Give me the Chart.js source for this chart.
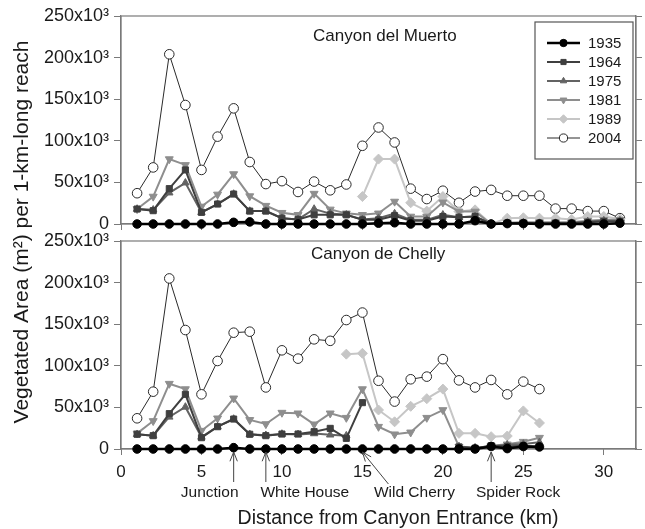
<!DOCTYPE html>
<html><head><meta charset="utf-8">
<script src="https://cdn.jsdelivr.net/npm/chart.js@4/dist/chart.umd.min.js"></script>
<style>
html,body{margin:0;padding:0;background:#fff;}
#wrap{position:relative;width:645px;height:529px;}
canvas{position:absolute;left:0;top:0;}
</style>
</head><body>
<div id="wrap"><canvas id="cTop" width="645" height="529"></canvas><canvas id="cBot" width="645" height="529"></canvas></div>
<script>
// ---- data (vegetated area, thousands of m^2 per 1-km reach) ----
const years = ['1935','1964','1975','1981','1989','2004'];
const kmMuerto = [1,2,3,4,5,6,7,8,9,10,11,12,13,14,15,16,17,18,19,20,21,22,23,24,25,26,27,28,29,30,31];
const muerto1935 = [0,0,0,0,0,0,2,2.5,0,0,0,0,0,0,0,1,1.5,0,0,0,0,4,0,0.5,0.5,0,0,0,0,0,1];
const muerto1964 = [18,16,42.5,65,14,24,36,15.5,15.5,7,5.5,11,11,11,5,5,10,4,4,9,8,9,0,1,1,1,1,1,2,3,3];
const muerto1975 = [18,17,37.5,49.5,14,24,36,15.5,15.5,7,5.5,18,12.5,11,5.5,7,12.5,5,5,11,8,9,0,1,1.5,1,1,1,3,4,4];
const muerto1981 = [18,33,78,71,21,35.5,60,33.5,22,13.5,11,36.5,17.5,12.8,11,12.8,27,9,9,26,15,15,0,1.5,2,2,2,2,4,5,5];
const muerto1989 = [null,null,null,null,null,null,null,null,null,null,null,null,null,null,33,78,78,25.5,15.5,33,15,17,0,7,7.5,7,7,5.5,9,9,6];
const muerto2004 = [37,68,204,143,65,105,139,74.5,48,51.5,38.5,51,40.5,47.5,94,116,98,42.5,30,40,25.5,39,41,34,34,34,18.5,18.5,15.5,15.5,7];

const kmChelly = [1,2,3,4,5,6,7,8,9,10,11,12,13,14,15,16,17,18,19,20,21,22,23,24,25,26];
const chelly1935 = [0,0,0,0,0,0,1.6,0,0,0,0,0,0,0,0,0,0,0,0,0,0,0,3,0.5,3,2.5];
const chelly1964 = [17.7,16,42.5,65.7,13.6,26.8,36,17.7,16,18,18,20.8,24.8,12.8,55.7,null,null,null,null,null,2.5,1,4,3,4,3];
const chelly1975 = [17.7,16,38.5,50.5,14.4,26.8,36,17.7,16.5,18,17.5,18.5,17,16,null,null,null,null,null,null,3,1.5,3,5,6,8];
const chelly1981 = [18.8,33.7,78.5,72,22,36.9,60.9,35,30,43.7,42.9,29.7,42.9,37.6,72,26.8,17.7,20,37.6,46.9,2.8,0.8,4,5.6,8.8,13.6];
const chelly1989 = [null,null,null,null,null,null,null,null,null,null,null,null,null,114,115,46.9,32.7,51.3,60.5,72,18.8,18.8,14.8,15.6,45.8,31.3];
const chelly2004 = [36.9,68.9,205,143,65.7,105.8,139.8,141,74,118.6,108.6,131.8,130,155,164,82,57,83.8,87,108,82.5,74,83,65.7,81,72];

const xTickStep = 5;
const yTicks = [0,50,100,150,200,250];
const landmarkNames = ['Junction','White House','Wild Cherry','Spider Rock'];
const landmarkKm = [7,9,15,23];
const xTitle = 'Distance from Canyon Entrance (km)';
const yTitle = 'Vegetated Area (m²) per 1-km-long reach';

// ---- styles ----
const FONT = "'Liberation Sans', Arial, sans-serif";
const AX = '#7a7a7a';
const TXT = '#1a1a1a';
const seriesStyle = [
  {color:'#000000', bg:'#000000', pointStyle:'circle', radius:4.3, width:2.5, rot:0},
  {color:'#3f3f3f', bg:'#3f3f3f', pointStyle:'rect', radius:4.3, width:2, rot:0},
  {color:'#636363', bg:'#636363', pointStyle:'triangle', radius:4.3, width:2, rot:0},
  {color:'#8e8e8e', bg:'#8e8e8e', pointStyle:'triangle', radius:4.6, width:2, rot:180},
  {color:'#c6c6c6', bg:'#c6c6c6', pointStyle:'rectRot', radius:5, width:2, rot:0},
  {color:'#2a2a2a', bg:'#ffffff', pointStyle:'circle', radius:4.8, width:1, rot:0}
];

function makeDatasets(km, seriesList){
  return seriesList.map((vals,i)=>{
    const s = seriesStyle[i];
    return {
      label: years[i],
      data: km.map((k,j)=>({x:k, y:vals[j]})),
      borderColor: s.color,
      backgroundColor: s.bg,
      borderWidth: s.width,
      pointStyle: s.pointStyle,
      pointRotation: s.rot,
      pointRadius: s.radius,
      pointBorderColor: s.color,
      pointBackgroundColor: s.bg,
      pointBorderWidth: 1,
      tension: 0,
      spanGaps: false,
      clip: 12
    };
  });
}

const framePlugin = {
  id:'frame',
  beforeDatasetsDraw(chart){
    const a = chart.chartArea, ctx = chart.ctx;
    ctx.save(); ctx.strokeStyle = AX; ctx.lineWidth = 1.2;
    ctx.strokeRect(a.left, a.top, a.right-a.left, a.bottom-a.top);
    ctx.restore();
  },
  afterDraw(chart, args, opts){
    const a = chart.chartArea, ctx = chart.ctx;
    ctx.save(); ctx.fillStyle = TXT; ctx.font = '17px ' + FONT;
    ctx.textBaseline = 'middle'; ctx.textAlign = 'left';
    ctx.fillText(opts.text, a.left + opts.dx, a.top + opts.dy);
    ctx.restore();
  }
};

const legendPlugin = {
  id:'boxLegend',
  afterDraw(chart){
    const ctx = chart.ctx, a = chart.chartArea;
    const bx = a.right - 101, by = a.top + 6, bw = 98, bh = 137;
    ctx.save();
    ctx.fillStyle = '#fff'; ctx.fillRect(bx,by,bw,bh);
    ctx.strokeStyle = '#555'; ctx.lineWidth = 1.2; ctx.strokeRect(bx,by,bw,bh);
    chart.data.datasets.forEach((ds,i)=>{
      const s = seriesStyle[i];
      const y = by + 21 + i*19;
      ctx.strokeStyle = s.color; ctx.lineWidth = s.width;
      ctx.beginPath(); ctx.moveTo(bx+12,y); ctx.lineTo(bx+45,y); ctx.stroke();
      ctx.fillStyle = s.bg; ctx.strokeStyle = s.color; ctx.lineWidth = 1;
      Chart.helpers.drawPoint(ctx, {pointStyle:s.pointStyle, rotation:s.rot, radius:s.radius*0.85, borderWidth:1}, bx+28.5, y);
      ctx.fillStyle = TXT; ctx.font = '15px ' + FONT; ctx.textBaseline='middle'; ctx.textAlign='left';
      ctx.fillText(ds.label, bx+53, y+1);
    });
    ctx.restore();
  }
};

const annotPlugin = {
  id:'annot',
  afterDraw(chart){
    const ctx = chart.ctx, a = chart.chartArea, xs = chart.scales.x;
    const labelDx = [-24, 39, 52, 27];
    ctx.save();
    ctx.strokeStyle = '#444'; ctx.lineWidth = 1;
    ctx.fillStyle = TXT; ctx.font = '15.5px ' + FONT; ctx.textAlign='center'; ctx.textBaseline='middle';
    landmarkKm.forEach((k,i)=>{
      const px = xs.getPixelForValue(k);
      const tipY = a.bottom + 3;
      let endX = px, endY = a.bottom + 33;
      if (landmarkNames[i] === 'Wild Cherry') { endX = px + 26; endY = a.bottom + 35; }
      const ang = Math.atan2(endY - tipY, endX - px);
      ctx.beginPath(); ctx.moveTo(px, tipY); ctx.lineTo(endX, endY); ctx.stroke();
      const hl = 10, hw = 0.38;
      ctx.beginPath();
      ctx.moveTo(px + hl*Math.cos(ang-hw), tipY + hl*Math.sin(ang-hw));
      ctx.lineTo(px, tipY);
      ctx.lineTo(px + hl*Math.cos(ang+hw), tipY + hl*Math.sin(ang+hw));
      ctx.stroke();
      ctx.fillText(landmarkNames[i], px + labelDx[i], a.bottom + 44);
    });
    // x-axis title
    ctx.font = '19.5px ' + FONT;
    ctx.fillText(xTitle, 398, 519);
    // shared y-axis title
    ctx.translate(22, 232); ctx.rotate(-Math.PI/2);
    ctx.font = '21px ' + FONT;
    ctx.fillText(yTitle, 0, 0);
    ctx.restore();
  }
};

function scalesFor(showX, xHeight){
  return {
    x: {
      type:'linear', position:'bottom', min:0, max:32,
      ticks:{display:showX, stepSize:xTickStep, includeBounds:false, color:TXT, font:{family:FONT, size:17}, padding:7, maxRotation:0},
      grid:{drawOnChartArea:false, drawTicks:true, tickLength:6, color:AX},
      border:{display:true, color:AX, width:1.2},
      title:{display:false},
      afterFit(ax){ ax.height = xHeight; }
    },
    y: {
      type:'linear', position:'left', min:0, max:250,
      afterBuildTicks(ax){ ax.ticks = yTicks.map(v=>({value:v})); },
      ticks:{color:TXT, font:{family:FONT, size:18}, padding:5, callback:v=> v===0 ? '0' : v + 'x10³'},
      grid:{drawOnChartArea:false, drawTicks:true, tickLength:7, color:AX},
      border:{display:true, color:AX, width:1.2},
      afterFit(ax){ ax.width = 121; }
    },
    yR: {
      type:'linear', position:'right', min:0, max:250,
      afterBuildTicks(ax){ ax.ticks = yTicks.map(v=>({value:v})); },
      ticks:{display:false},
      grid:{drawOnChartArea:false, drawTicks:true, tickLength:6, color:AX},
      border:{display:true, color:AX, width:1.2},
      afterFit(ax){ ax.width = 9; }
    }
  };
}

const baseOpts = (scales, padTop, extra) => Object.assign({
  responsive:false, animation:false, devicePixelRatio:1,
  layout:{padding:{top:padTop, left:0, right:0, bottom:0}},
  plugins:{legend:{display:false}, tooltip:{enabled:false}},
  scales
}, extra);

new Chart(document.getElementById('cTop'), {
  type:'line',
  data:{datasets: makeDatasets(kmMuerto, [muerto1935,muerto1964,muerto1975,muerto1981,muerto1989,muerto2004])},
  options: (()=>{ const o = baseOpts(scalesFor(false, 529-224), 16);
    o.plugins.frame = {text:'Canyon del Muerto', dx:192, dy:20}; return o; })(),
  plugins:[framePlugin, legendPlugin]
});

new Chart(document.getElementById('cBot'), {
  type:'line',
  data:{datasets: makeDatasets(kmChelly, [chelly1935,chelly1964,chelly1975,chelly1981,chelly1989,chelly2004])},
  options: (()=>{ const o = baseOpts(scalesFor(true, 529-449), 241);
    o.plugins.frame = {text:'Canyon de Chelly', dx:190, dy:13}; return o; })(),
  plugins:[framePlugin, annotPlugin]
});
</script>
</body></html>
